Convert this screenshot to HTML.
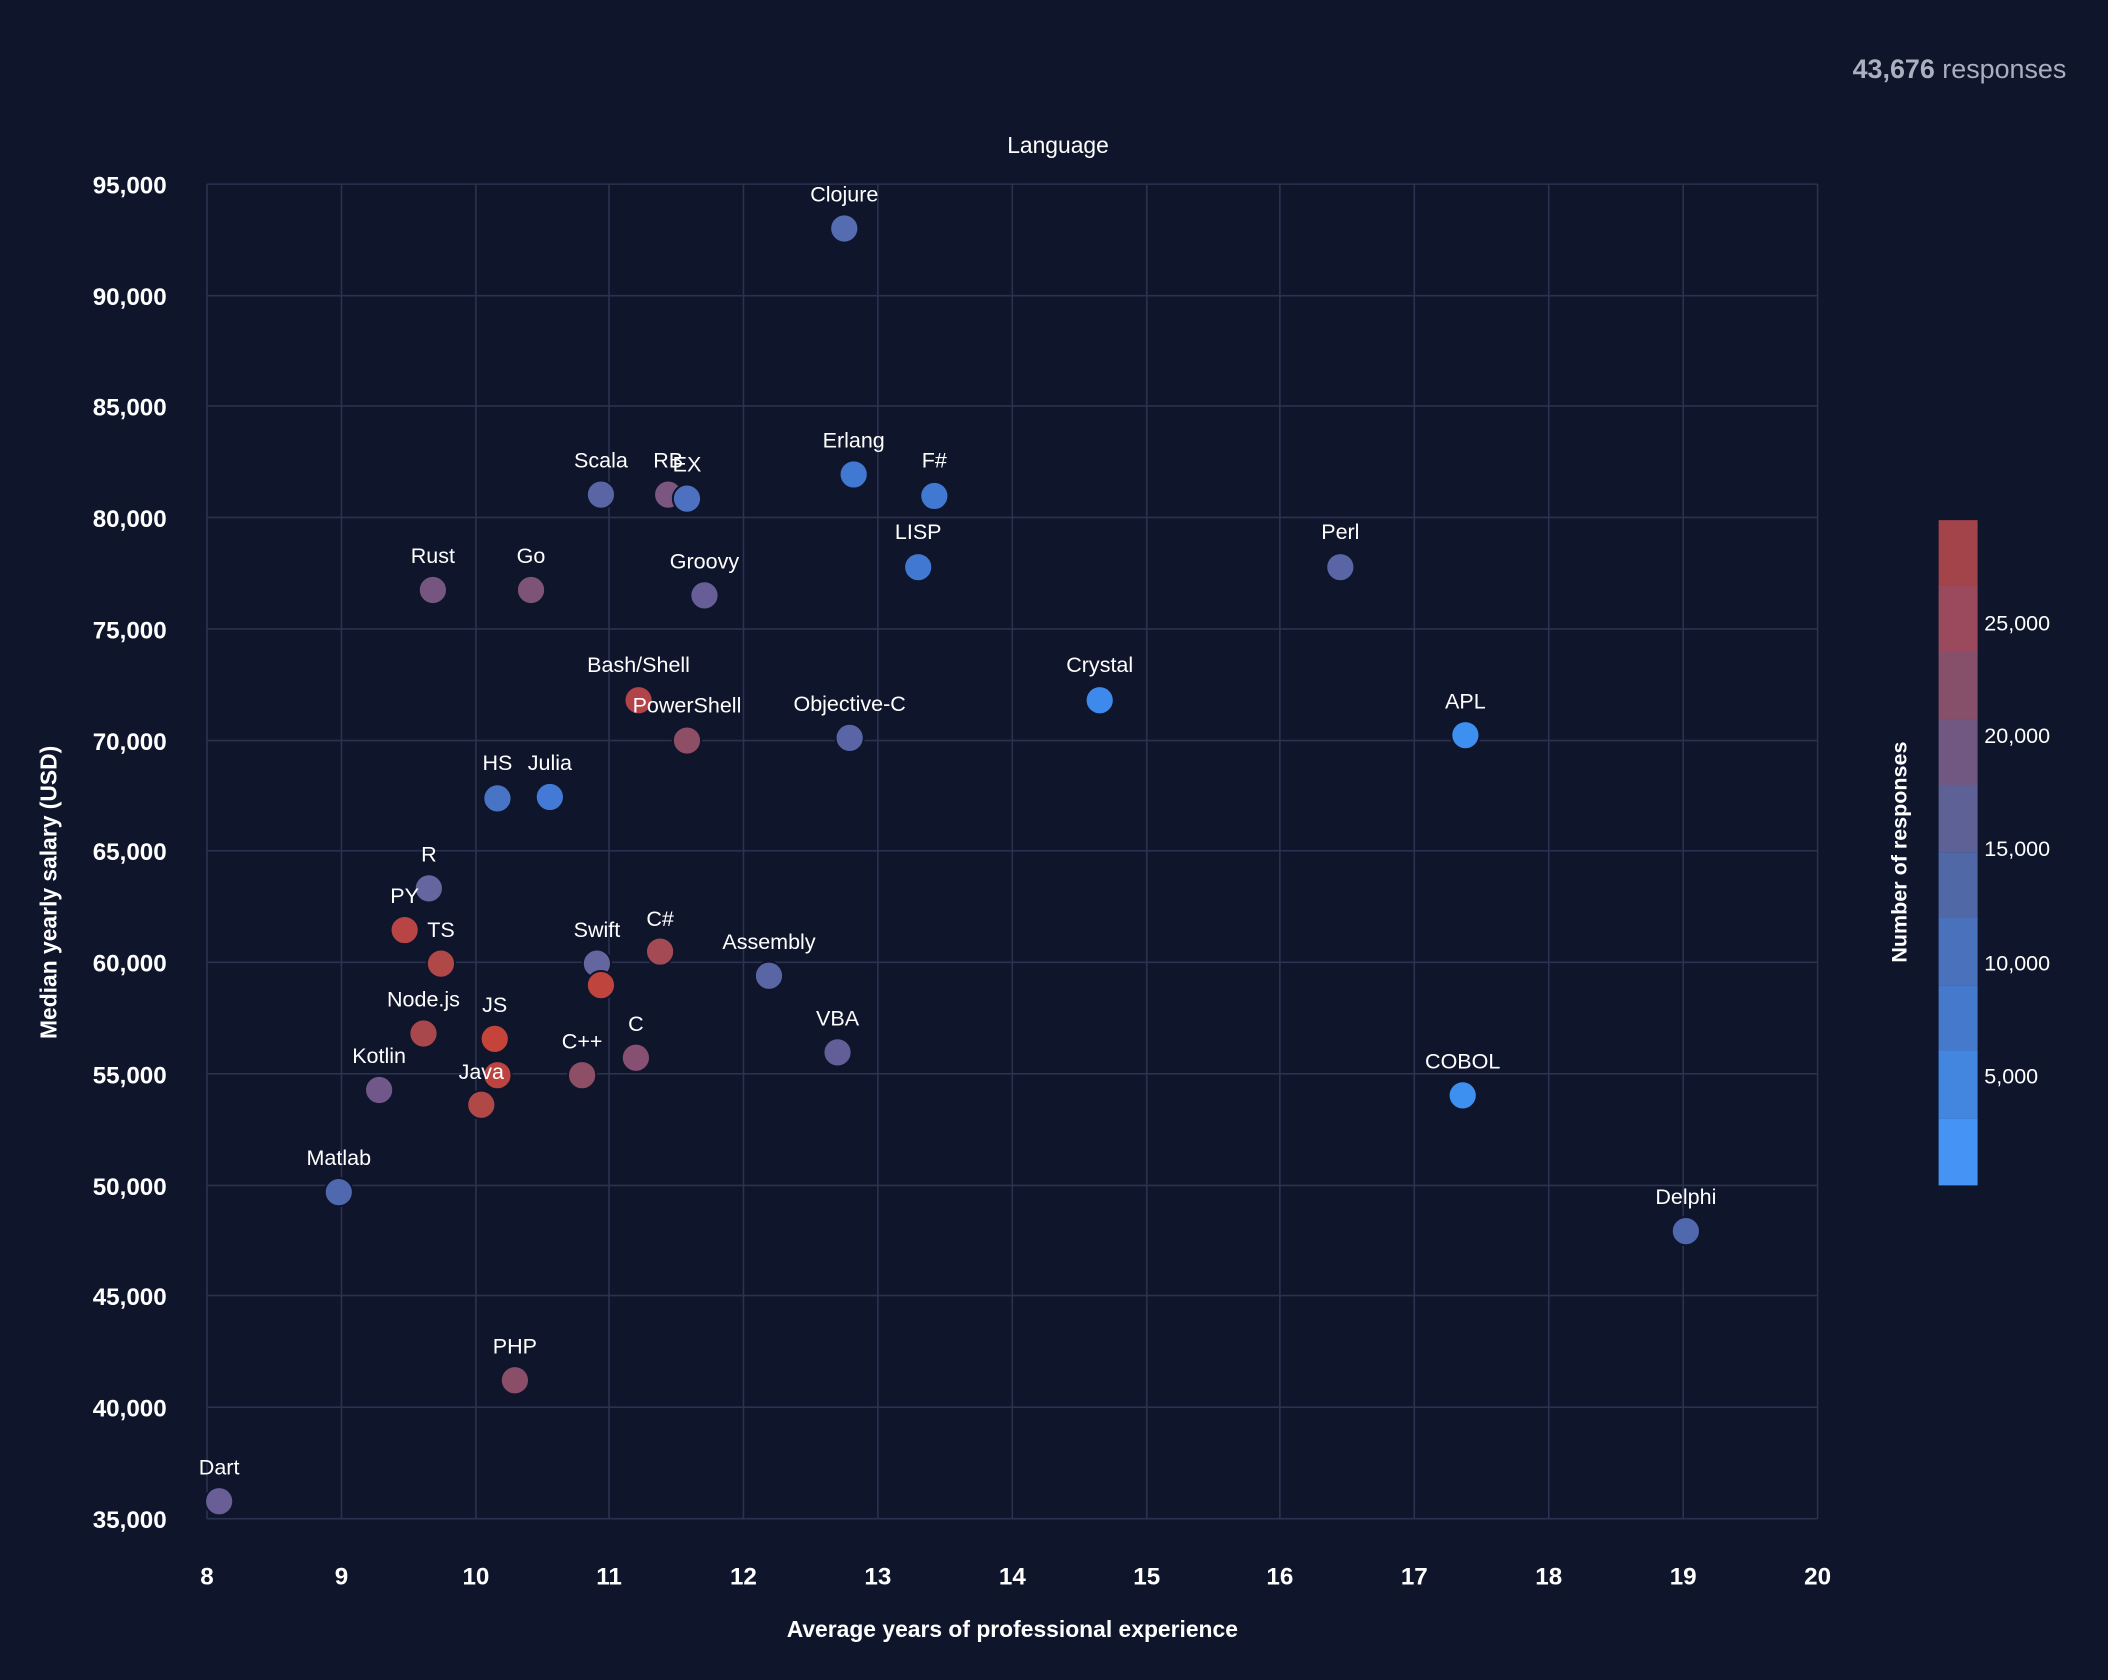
<!DOCTYPE html>
<html><head><meta charset="utf-8"><style>
html,body{margin:0;padding:0;background:#0f152b;}
svg{display:block;}
text{font-family:"Liberation Sans",sans-serif;fill:#fff;}
</style></head><body>
<svg width="2108" height="1680" viewBox="0 0 1568 1250" preserveAspectRatio="none" xmlns="http://www.w3.org/2000/svg">
<rect width="1568" height="1250" fill="#0f152b"/>
<text x="1537" y="58" text-anchor="end" font-size="20" style="fill:#aab0bd"><tspan font-weight="bold">43,676</tspan> responses</text>
<text x="787" y="114" text-anchor="middle" font-size="17">Language</text>
<g stroke="#2b3250" stroke-width="1.2">
<line x1="154" y1="137" x2="154" y2="1130"/><line x1="254" y1="137" x2="254" y2="1130"/><line x1="354" y1="137" x2="354" y2="1130"/><line x1="453" y1="137" x2="453" y2="1130"/><line x1="553" y1="137" x2="553" y2="1130"/><line x1="653" y1="137" x2="653" y2="1130"/><line x1="753" y1="137" x2="753" y2="1130"/><line x1="853" y1="137" x2="853" y2="1130"/><line x1="952" y1="137" x2="952" y2="1130"/><line x1="1052" y1="137" x2="1052" y2="1130"/><line x1="1152" y1="137" x2="1152" y2="1130"/><line x1="1252" y1="137" x2="1252" y2="1130"/><line x1="1352" y1="137" x2="1352" y2="1130"/>
<line x1="154" y1="137" x2="1352" y2="137"/><line x1="154" y1="220" x2="1352" y2="220"/><line x1="154" y1="302" x2="1352" y2="302"/><line x1="154" y1="385" x2="1352" y2="385"/><line x1="154" y1="468" x2="1352" y2="468"/><line x1="154" y1="551" x2="1352" y2="551"/><line x1="154" y1="633" x2="1352" y2="633"/><line x1="154" y1="716" x2="1352" y2="716"/><line x1="154" y1="799" x2="1352" y2="799"/><line x1="154" y1="882" x2="1352" y2="882"/><line x1="154" y1="964" x2="1352" y2="964"/><line x1="154" y1="1047" x2="1352" y2="1047"/><line x1="154" y1="1130" x2="1352" y2="1130"/>
</g>
<g font-size="18" font-weight="bold" text-anchor="end">
<text x="124" y="144">95,000</text><text x="124" y="227">90,000</text><text x="124" y="309">85,000</text><text x="124" y="392">80,000</text><text x="124" y="475">75,000</text><text x="124" y="558">70,000</text><text x="124" y="640">65,000</text><text x="124" y="723">60,000</text><text x="124" y="806">55,000</text><text x="124" y="889">50,000</text><text x="124" y="971">45,000</text><text x="124" y="1054">40,000</text><text x="124" y="1137">35,000</text>
</g>
<g font-size="18" font-weight="bold" text-anchor="middle">
<text x="154" y="1179">8</text><text x="254" y="1179">9</text><text x="354" y="1179">10</text><text x="453" y="1179">11</text><text x="553" y="1179">12</text><text x="653" y="1179">13</text><text x="753" y="1179">14</text><text x="853" y="1179">15</text><text x="952" y="1179">16</text><text x="1052" y="1179">17</text><text x="1152" y="1179">18</text><text x="1252" y="1179">19</text><text x="1352" y="1179">20</text>
</g>
<text x="753" y="1218" text-anchor="middle" font-size="17" font-weight="bold">Average years of professional experience</text>
<text transform="translate(42,664) rotate(-90)" text-anchor="middle" font-size="17" font-weight="bold">Median yearly salary (USD)</text>
<g stroke="#0f152b" stroke-width="1.5">
<circle cx="628" cy="170" r="10.5" fill="#566cb0"/>
<circle cx="635" cy="353" r="10.5" fill="#4179d2"/>
<circle cx="695" cy="369" r="10.5" fill="#4179d2"/>
<circle cx="447" cy="368" r="10.5" fill="#5a65a6"/>
<circle cx="497" cy="368" r="10.5" fill="#7a5680"/>
<circle cx="511" cy="371" r="10.5" fill="#4d70c0"/>
<circle cx="683" cy="422" r="10.5" fill="#4179d2"/>
<circle cx="997" cy="422" r="10.5" fill="#5a65a6"/>
<circle cx="322" cy="439" r="10.5" fill="#765680"/>
<circle cx="395" cy="439" r="10.5" fill="#7d5478"/>
<circle cx="524" cy="443" r="10.5" fill="#675e98"/>
<circle cx="475" cy="521" r="10.5" fill="#b04448"/>
<circle cx="511" cy="551" r="10.5" fill="#8e4e66"/>
<circle cx="632" cy="549" r="10.5" fill="#5a65a6"/>
<circle cx="818" cy="521" r="10.5" fill="#3d8aec"/>
<circle cx="1090" cy="547" r="10.5" fill="#3d8ff0"/>
<circle cx="370" cy="594" r="10.5" fill="#4874c6"/>
<circle cx="409" cy="593" r="10.5" fill="#437ad6"/>
<circle cx="319" cy="661" r="10.5" fill="#6565a0"/>
<circle cx="301" cy="692" r="10.5" fill="#b84446"/>
<circle cx="328" cy="717" r="10.5" fill="#b04848"/>
<circle cx="444" cy="717" r="10.5" fill="#6466a0"/>
<circle cx="447" cy="733" r="10.5" fill="#c0443e"/>
<circle cx="491" cy="708" r="10.5" fill="#a44a54"/>
<circle cx="572" cy="726" r="10.5" fill="#5a65a6"/>
<circle cx="315" cy="769" r="10.5" fill="#a8484c"/>
<circle cx="368" cy="773" r="10.5" fill="#c4443a"/>
<circle cx="370" cy="800" r="10.5" fill="#bc4440"/>
<circle cx="358" cy="822" r="10.5" fill="#b04848"/>
<circle cx="433" cy="800" r="10.5" fill="#8e4e66"/>
<circle cx="473" cy="787" r="10.5" fill="#875072"/>
<circle cx="623" cy="783" r="10.5" fill="#625e98"/>
<circle cx="1088" cy="815" r="10.5" fill="#3d8ff0"/>
<circle cx="282" cy="811" r="10.5" fill="#72588a"/>
<circle cx="252" cy="887" r="10.5" fill="#5068ae"/>
<circle cx="1254" cy="916" r="10.5" fill="#5068ae"/>
<circle cx="383" cy="1027" r="10.5" fill="#8a4e68"/>
<circle cx="163" cy="1117" r="10.5" fill="#6a5e96"/>
</g>
<g font-size="16" text-anchor="middle">
<text x="628" y="150">Clojure</text><text x="635" y="333">Erlang</text><text x="695" y="348">F#</text><text x="447" y="348">Scala</text><text x="497" y="348">RB</text><text x="511" y="351">EX</text><text x="683" y="401">LISP</text><text x="997" y="401">Perl</text><text x="322" y="419">Rust</text><text x="395" y="419">Go</text><text x="524" y="423">Groovy</text><text x="475" y="500">Bash/Shell</text><text x="511" y="530">PowerShell</text><text x="632" y="529">Objective-C</text><text x="818" y="500">Crystal</text><text x="1090" y="527">APL</text><text x="370" y="573">HS</text><text x="409" y="573">Julia</text><text x="319" y="641">R</text><text x="301" y="672">PY</text><text x="328" y="697">TS</text><text x="444" y="697">Swift</text><text x="491" y="689">C#</text><text x="572" y="706">Assembly</text><text x="315" y="749">Node.js</text><text x="368" y="753">JS</text><text x="358" y="803">Java</text><text x="433" y="780">C++</text><text x="473" y="767">C</text><text x="623" y="763">VBA</text><text x="1088" y="795">COBOL</text><text x="282" y="791">Kotlin</text><text x="252" y="867">Matlab</text><text x="1254" y="896">Delphi</text><text x="383" y="1007">PHP</text><text x="163" y="1097">Dart</text>
</g>
<g>
<rect x="1442" y="387" width="29" height="50" fill="#a3434a"/>
<rect x="1442" y="436" width="29" height="50" fill="#9a4a5c"/>
<rect x="1442" y="485" width="29" height="50" fill="#87506a"/>
<rect x="1442" y="535" width="29" height="50" fill="#705882"/>
<rect x="1442" y="584" width="29" height="50" fill="#5e6196"/>
<rect x="1442" y="634" width="29" height="50" fill="#5068a6"/>
<rect x="1442" y="683" width="29" height="50" fill="#4a72bc"/>
<rect x="1442" y="733" width="29" height="50" fill="#4579cc"/>
<rect x="1442" y="782" width="29" height="50" fill="#4286e0"/>
<rect x="1442" y="832" width="29" height="50" fill="#4593f5"/>
</g>
<g font-size="16">
<text x="1476" y="469">25,000</text><text x="1476" y="553">20,000</text><text x="1476" y="637">15,000</text><text x="1476" y="722">10,000</text><text x="1476" y="806">5,000</text>
</g>
<text transform="translate(1418,634) rotate(-90)" text-anchor="middle" font-size="16" font-weight="bold">Number of responses</text>
</svg>
</body></html>
